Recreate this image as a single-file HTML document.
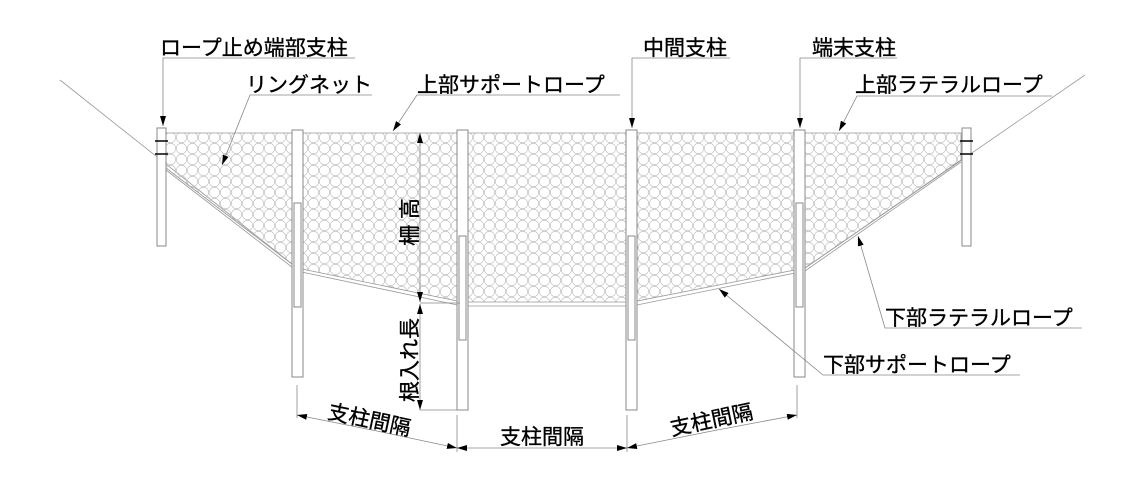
<!DOCTYPE html>
<html><head><meta charset="utf-8"><style>
html,body{margin:0;padding:0;background:#fff;}
svg{display:block;}
text{font-family:"Liberation Sans","Noto Sans CJK JP",sans-serif;font-size:21px;fill:#000;stroke:#000;stroke-width:0.35;}
</style></head><body>
<svg width="1144" height="496" viewBox="0 0 1144 496" xmlns="http://www.w3.org/2000/svg">
<defs>
<pattern id="net" x="0" y="0" width="11" height="11" patternUnits="userSpaceOnUse">
<circle cx="5.5" cy="5.5" r="5.2" fill="none" stroke="#bbb" stroke-width="0.6"/>
</pattern>
<marker id="ar" markerWidth="10" markerHeight="6" refX="10" refY="3" orient="auto" markerUnits="userSpaceOnUse">
<path d="M0,0 L10,3 L0,6 z" fill="#000"/>
</marker>
</defs>
<!-- slopes -->
<line x1="60" y1="80" x2="297" y2="268" stroke="#999" stroke-width="0.8"/>
<line x1="1085" y1="75" x2="805" y2="268" stroke="#999" stroke-width="0.8"/>
<!-- net -->
<polygon points="166,133 961,133 961,160 805,268 632,302 462,302 297,268 166,168" fill="url(#net)" stroke="#999" stroke-width="0.8"/>
<polyline points="166,170 297,271 462,306 632,306 805,271 961,162" fill="none" stroke="#999" stroke-width="0.8"/>
<!-- posts -->
<g fill="#fff" stroke="#888" stroke-width="1">
<rect x="157" y="128" width="9" height="118"/>
<rect x="962" y="128" width="9" height="118"/>
<rect x="292" y="130" width="11" height="247"/>
<rect x="457" y="130" width="11" height="280"/>
<rect x="626" y="130" width="11" height="280"/>
<rect x="794" y="130" width="11" height="247"/>
<rect x="294" y="203" width="7" height="104"/>
<rect x="459" y="236" width="7" height="104"/>
<rect x="628" y="236" width="7" height="104"/>
<rect x="796" y="203" width="7" height="104"/>
</g>
<g stroke="#000" stroke-width="1.5">
<line x1="155" y1="141" x2="168" y2="141"/><line x1="155" y1="154" x2="168" y2="154"/>
<line x1="960" y1="141" x2="973" y2="141"/><line x1="960" y1="154" x2="973" y2="154"/>
</g>
<!-- leaders -->
<g stroke="#888" stroke-width="0.8" fill="none">
<polyline points="355,58 163,58 163,126" marker-end="url(#ar)"/>
<polyline points="372,95 250,95 222,165" marker-end="url(#ar)"/>
<polyline points="620,95 417,95 393,131" marker-end="url(#ar)"/>
<polyline points="730,58 632,58 632,128" marker-end="url(#ar)"/>
<polyline points="897,58 800,58 800,128" marker-end="url(#ar)"/>
<polyline points="1052,96 857,96 839,131" marker-end="url(#ar)"/>
<polyline points="1082,328 885,328 858,236" marker-end="url(#ar)"/>
<polyline points="1020,375 823,375 719,289" marker-end="url(#ar)"/>
<line x1="420" y1="303" x2="460" y2="303"/>
<line x1="420" y1="410" x2="457" y2="410"/>
<line x1="297" y1="385" x2="297" y2="418"/>
<line x1="457" y1="415" x2="457" y2="452"/>
<line x1="627" y1="415" x2="627" y2="452"/>
<line x1="797" y1="385" x2="797" y2="418"/>
<line x1="420" y1="155" x2="420" y2="133" marker-end="url(#ar)"/>
<line x1="420" y1="155" x2="420" y2="302" />
<line x1="420" y1="280" x2="420" y2="302" marker-end="url(#ar)"/>
<line x1="420" y1="330" x2="420" y2="304" marker-end="url(#ar)"/>
<line x1="420" y1="330" x2="420" y2="410" marker-end="url(#ar)"/>
<line x1="377" y1="431" x2="297" y2="415" marker-end="url(#ar)"/>
<line x1="377" y1="431" x2="457" y2="448" marker-end="url(#ar)"/>
<line x1="542" y1="448" x2="457" y2="448" marker-end="url(#ar)"/>
<line x1="542" y1="448" x2="627" y2="448" marker-end="url(#ar)"/>
<line x1="712" y1="431" x2="627" y2="448" marker-end="url(#ar)"/>
<line x1="712" y1="431" x2="797" y2="415" marker-end="url(#ar)"/>
</g>
<!-- labels -->
<text x="160" y="55">ロープ止め端部支柱</text>
<text x="246" y="92">リングネット</text>
<text x="417" y="92">上部サポートロープ</text>
<text x="643" y="55">中間支柱</text>
<text x="812" y="55">端末支柱</text>
<text x="855" y="92">上部ラテラルロープ</text>
<text x="885" y="325">下部ラテラルロープ</text>
<text x="823" y="372">下部サポートロープ</text>
<text transform="translate(417,222) rotate(-90)" text-anchor="middle">柵 高</text>
<text transform="translate(417,360) rotate(-90)" text-anchor="middle">根入れ長</text>
<text transform="translate(368,427) rotate(12)" text-anchor="middle">支柱間隔</text>
<text x="542" y="444" text-anchor="middle">支柱間隔</text>
<text transform="translate(713,427) rotate(-12)" text-anchor="middle">支柱間隔</text>
</svg>
</body></html>
